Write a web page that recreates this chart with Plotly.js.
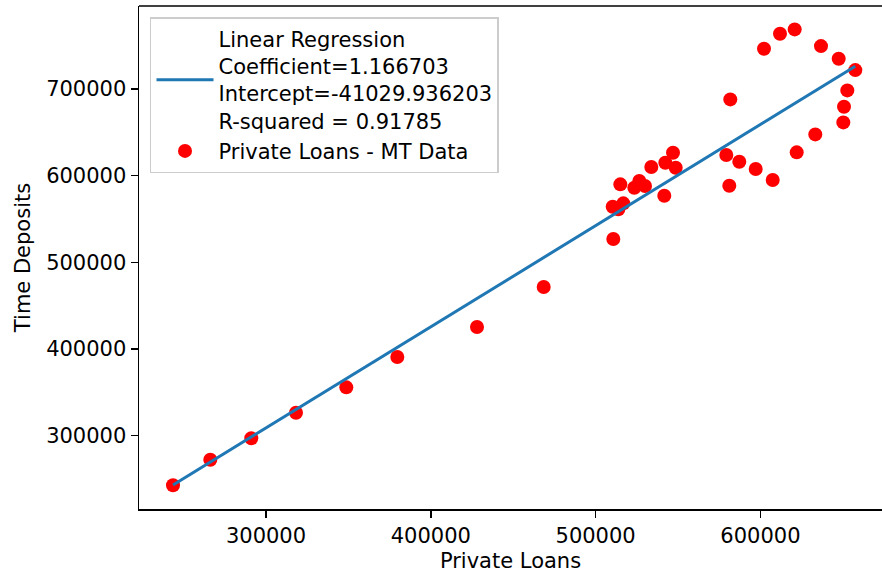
<!DOCTYPE html>
<html>
<head>
<meta charset="utf-8">
<script src="https://cdn.plot.ly/plotly-3.0.1.min.js"></script>
<style>
  html, body { margin: 0; padding: 0; background: #fff; overflow: hidden; }
  #chart { width: 882px; height: 576px; }
</style>
</head>
<body>
<div id="chart"></div>
<script>
// Scatter data
const privateLoans = [
  243568, 266200, 291080, 318200, 348730, 379670, 428030, 468500,
  510740, 510380, 513780, 516810, 515000, 523490, 526520, 529980,
  533800, 541690, 542300, 546970, 548600, 579310, 581130, 587200,
  602190, 611890, 620810, 636770, 647510, 657590, 652740, 650730,
  650310, 633310, 622030, 607470, 597150, 581740
];
const timeDeposits = [
  242791, 272318, 297000, 326530, 355820, 390770, 425370, 471510,
  526870, 564130, 561130, 568050, 589960, 586040, 593770, 588000,
  609930, 576810, 614880, 626410, 609110, 623760, 588340, 616030,
  746370, 763670, 768740, 749460, 734830, 721800, 698380, 679470,
  661470, 647630, 626870, 594930, 607620, 688000
];
// Regression line end points
const lineX = [243568, 657590];
const lineY = [243140, 726180];

const lineName = "Linear Regression<br>Coefficient=1.166703<br>Intercept=-41029.936203<br>R-squared = 0.91785";
const scatterName = "Private Loans - MT Data";

const xTicks = [300000, 400000, 500000, 600000];
const yTicks = [300000, 400000, 500000, 600000, 700000];
const xTickText = ["300000", "400000", "500000", "600000"];
const yTickText = ["300000", "400000", "500000", "600000", "700000"];

const font = "DejaVu Sans, Liberation Sans, sans-serif";
const fs = 21;

const traces = [
  {
    type: "scatter", mode: "markers",
    x: privateLoans, y: timeDeposits,
    name: scatterName,
    marker: { color: "#ff0000", size: 14, line: { width: 0 } },
    legendrank: 2,
    hoverinfo: "x+y"
  },
  {
    type: "scatter", mode: "lines",
    x: lineX, y: lineY,
    name: lineName,
    line: { color: "#1f77b4", width: 3 },
    legendrank: 1,
    hoverinfo: "x+y"
  }
];

const axisCommon = {
  showgrid: false, zeroline: false,
  showline: true, linecolor: "#000", linewidth: 1.5,
  ticks: "outside", ticklen: 7, tickwidth: 1.5, tickcolor: "#000",
  tickfont: { family: font, size: fs, color: "#000" },
  tickmode: "array",
  automargin: false
};

const layout = {
  width: 882, height: 576,
  margin: { l: 139, r: 0, t: 6, b: 67 },
  paper_bgcolor: "#fff", plot_bgcolor: "#fff",
  font: { family: font, size: fs, color: "#000" },
  showlegend: true,
  legend: {
    x: 0.0148, y: 0.978, xanchor: "left", yanchor: "top",
    bgcolor: "rgba(255,255,255,0.8)",
    bordercolor: "#cccccc", borderwidth: 1.5,
    font: { family: font, size: fs, color: "#000" },
    itemwidth: 57,
    tracegroupgap: 0
  },
  xaxis: Object.assign({}, axisCommon, {
    range: [222936, 673790],
    tickvals: xTicks, ticktext: xTickText,
    title: { text: "Private Loans", font: { family: font, size: fs, color: "#000" }, standoff: 6 }
  }),
  yaxis: Object.assign({}, axisCommon, {
    range: [215460, 795730],
    tickvals: yTicks, ticktext: yTickText,
    title: { text: "Time Deposits", font: { family: font, size: fs, color: "#000" }, standoff: 10 }
  }),
  shapes: [
    { type: "line", xref: "paper", yref: "paper", x0: 0, x1: 1, y0: 1, y1: 1,
      line: { color: "#000", width: 1.5 } }
  ]
};

Plotly.newPlot("chart", traces, layout, { staticPlot: true, displayModeBar: false });
</script>
</body>
</html>
